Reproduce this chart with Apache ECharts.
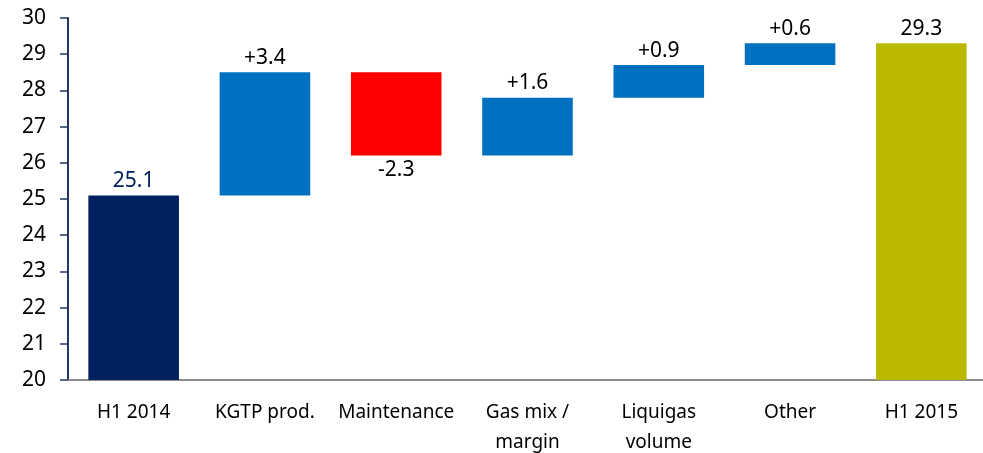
<!DOCTYPE html>
<html>
<head>
<meta charset="utf-8">
<script src="https://cdn.jsdelivr.net/npm/echarts@6/dist/echarts.min.js"></script>
<style>
  html, body { margin: 0; padding: 0; background: #fff; }
  #chart { width: 983px; height: 453px; }
</style>
</head>
<body>
<div id="chart"></div>
<script>
// waterfall data
const categories = ['H1 2014', 'KGTP prod.', 'Maintenance', 'Gas mix /\nmargin', 'Liquigas\nvolume', 'Other', 'H1 2015']
const values = [25.1, 3.4, -2.3, 1.6, 0.9, 0.6, 29.3]
const isTotal = [true, false, false, false, false, false, true]
const barColors = ['#002060', '#0070C0', '#FF0000', '#0070C0', '#0070C0', '#0070C0', '#BBB800']
const yTicks = [20, 21, 22, 23, 24, 25, 26, 27, 28, 29, 30]

// build invisible base + visible part
let running = 0
const baseData = []
const barData = []
values.forEach((v, i) => {
    if (isTotal[i]) {
        baseData.push(0)
        barData.push(v)
        running = v
    } else if (v >= 0) {
        baseData.push(running)
        barData.push(v)
        running += v
    } else {
        baseData.push(running + v)
        barData.push(-v)
        running += v
    }
})

const chart = echarts.init(document.getElementById('chart'))
const font = 'Noto Sans'

chart.setOption({
    animation: false,
    grid: { left: 68, right: -4, top: 18, bottom: 73, outerBoundsMode: 'none', containLabel: false },
    xAxis: {
        type: 'category',
        data: categories,
        axisLine: { lineStyle: { color: '#8C8C8C', width: 2 } },
        axisTick: { length: 6, lineStyle: { color: '#8C8C8C', width: 1.5 } },
        axisLabel: {
            color: '#000', fontFamily: font, fontSize: 19, margin: 18,
            lineHeight: 30, interval: 0
        }
    },
    yAxis: {
        type: 'value',
        min: yTicks[0],
        max: yTicks[yTicks.length - 1],
        interval: 1,
        splitLine: { show: false },
        axisLine: { show: true, lineStyle: { color: '#203864', width: 2 } },
        axisTick: { show: true, inside: false, length: 8, lineStyle: { color: '#203864', width: 1.5 } },
        axisLabel: { color: '#000', fontFamily: font, fontSize: 21, margin: 22 }
    },
    series: [
        {
            type: 'bar',
            stack: 'wf',
            data: baseData,
            itemStyle: { color: 'transparent' },
            silent: true,
            barWidth: '69%'
        },
        {
            type: 'bar',
            stack: 'wf',
            barWidth: '69%',
            data: barData.map((h, i) => {
                const v = values[i]
                const txt = isTotal[i] ? v.toFixed(1) : (v > 0 ? '+' : '') + v.toFixed(1)
                return {
                    value: h,
                    itemStyle: { color: barColors[i] },
                    label: {
                        show: true,
                        position: v < 0 ? 'bottom' : 'top',
                        distance: 4,
                        formatter: txt,
                        color: i === 0 ? '#002060' : '#000',
                        fontFamily: font,
                        fontSize: 21
                    }
                }
            })
        }
    ]
})
</script>
</body>
</html>
